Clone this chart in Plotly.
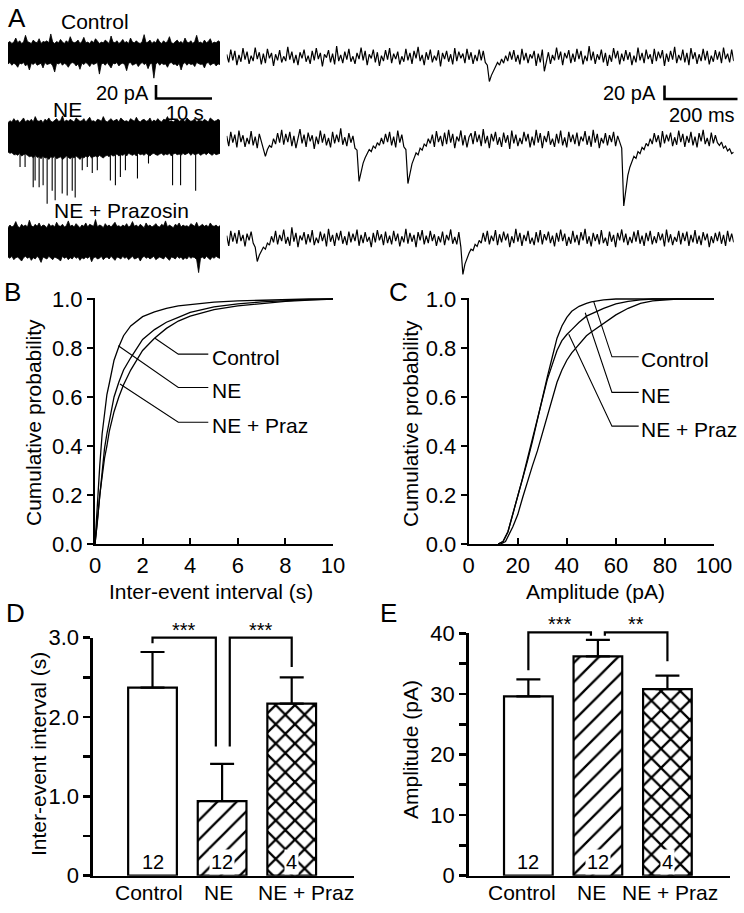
import numpy as np
import plotly.graph_objects as go

W, H = 744, 913
FONT = "Liberation Sans, Arial, Helvetica, sans-serif"

# ---------------- data ----------------
groups = ["Control", "NE", "NE + Praz"]
n_cells = [12, 12, 4]
iei_mean = [2.37, 0.94, 2.17]
iei_sem = [0.45, 0.47, 0.33]
amp_mean = [29.6, 36.2, 30.8]
amp_sem = [2.8, 2.7, 2.2]
iei_stars = ["***", "***"]
amp_stars = ["***", "**"]

# cumulative distributions of inter-event interval (s)
iei_x = [0, 0.05, 0.1, 0.2, 0.3, 0.4, 0.5, 0.6, 0.8, 1.0, 1.2, 1.5, 2.0, 2.5, 3.0, 3.5, 4, 5, 6, 7, 8, 9, 10]
iei_cdf_ctrl = [0, 0.04, 0.09, 0.2, 0.28, 0.35, 0.4, 0.46, 0.54, 0.6, 0.65, 0.71, 0.79, 0.84, 0.88, 0.91, 0.93, 0.957, 0.972, 0.982, 0.99, 0.995, 1.0]
iei_cdf_ne = [0, 0.09, 0.18, 0.32, 0.45, 0.54, 0.61, 0.655, 0.75, 0.805, 0.85, 0.89, 0.928, 0.947, 0.962, 0.972, 0.978, 0.987, 0.992, 0.995, 0.998, 1.0, 1.0]
iei_cdf_praz = [0, 0.05, 0.1, 0.22, 0.31, 0.39, 0.45, 0.5, 0.6, 0.66, 0.71, 0.76, 0.835, 0.875, 0.905, 0.925, 0.945, 0.968, 0.98, 0.988, 0.994, 0.997, 1.0]

# cumulative distributions of amplitude (pA)
amp_x_ctrl = [12, 14, 16, 18, 20, 22, 24, 26, 28, 30, 32, 34, 36, 38, 40, 42, 45, 48, 50, 55, 60, 100]
amp_cdf_ctrl = [0, 0.01, 0.05, 0.12, 0.19, 0.27, 0.34, 0.42, 0.51, 0.6, 0.68, 0.76, 0.84, 0.89, 0.925, 0.95, 0.97, 0.982, 0.988, 0.996, 1.0, 1.0]
amp_x_praz = [12, 14, 16, 18, 20, 22, 24, 26, 28, 30, 32, 34, 36, 38, 40, 42, 45, 48, 50, 55, 60, 65, 70, 75, 100]
amp_cdf_praz = [0, 0.01, 0.05, 0.12, 0.2, 0.27, 0.35, 0.43, 0.52, 0.6, 0.67, 0.73, 0.79, 0.83, 0.855, 0.875, 0.905, 0.93, 0.94, 0.962, 0.98, 0.99, 0.996, 1.0, 1.0]
amp_x_ne = [13, 15, 18, 20, 22, 24, 26, 28, 30, 32, 34, 36, 38, 40, 42, 45, 48, 50, 55, 60, 65, 70, 75, 80, 85, 100]
amp_cdf_ne = [0, 0.01, 0.07, 0.12, 0.19, 0.26, 0.32, 0.38, 0.45, 0.53, 0.6, 0.66, 0.71, 0.75, 0.78, 0.815, 0.85, 0.865, 0.9, 0.935, 0.962, 0.982, 0.992, 0.997, 1.0, 1.0]

# label leader lines: (label, curve point x, curve point y, elbow y)
iei_labels = [("Control", 2.52, 0.84, 0.775), ("NE", 0.98, 0.809, 0.639), ("NE + Praz", 1.05, 0.653, 0.497)]
amp_labels = [("Control", 51.0, 0.988, 0.764), ("NE", 47.5, 0.944, 0.619), ("NE + Praz", 40.8, 0.856, 0.481)]

# --- panel A: recordings (pA) ---
trace_names = ["Control", "NE", "NE + Prazosin"]
# 38 s overview traces: upper / lower envelopes of the dense current band
ctrl_env_up = [15, 17, 14, 16, 22, 15, 18, 14, 16, 26, 17, 15, 14, 19, 16, 15, 21, 14, 17, 16,
               18, 15, 28, 16, 14, 17, 15, 20, 16, 14, 18, 15, 24, 17, 15, 16, 19, 14, 17, 23,
               15, 16, 14, 18, 15, 21, 17, 14, 16, 15, 19, 17, 14, 25, 16, 15, 18, 14, 16, 20,
               15, 17, 14, 22, 16, 15, 18, 15, 14, 17, 27, 15, 16, 19, 14, 17, 15, 21, 16, 14,
               18, 15, 17, 24, 15, 14, 16, 19, 15, 17, 14, 22, 16, 15, 18, 14, 17, 26, 15, 16,
               14, 19, 15, 17, 21, 14, 16, 15, 18, 16]
ctrl_env_lo = [-16, -14, -18, -15, -17, -21, -15, -16, -14, -19, -16, -25, -15, -17, -14, -18, -16, -15, -22, -14,
               -17, -16, -15, -19, -28, -15, -16, -14, -18, -15, -17, -21, -16, -14, -15, -19, -16, -24, -15, -17,
               -14, -16, -20, -15, -17, -16, -14, -31, -16, -15, -18, -14, -17, -22, -15, -16, -14, -19, -16, -15,
               -17, -26, -15, -14, -18, -16, -15, -20, -16, -14, -17, -15, -23, -16, -15, -37, -16, -14, -18, -15,
               -17, -16, -21, -15, -14, -17, -16, -19, -15, -25, -16, -14, -18, -15, -17, -16, -20, -14, -15, -17,
               -16, -22, -15, -14, -18, -16, -15, -19, -16, -17]
ne_env_up = [21, 24, 22, 27, 23, 25, 21, 24, 28, 22, 25, 23, 26, 22, 30, 24, 23, 25, 21, 26,
             24, 28, 23, 22, 25, 27, 23, 24, 31, 22, 25, 23, 26, 24, 22, 28, 25, 23, 24, 27,
             22, 25, 29, 23, 24, 22, 26, 25, 23, 30, 24, 22, 25, 27, 23, 24, 26, 22, 28, 25,
             23, 24, 22, 27, 25, 23, 29, 24, 22, 25, 26, 23, 24, 28, 22, 25, 23, 27, 24, 22,
             26, 25, 30, 23, 24, 22, 25, 27, 23, 24, 26, 22, 28, 25, 23, 24, 27, 22, 25, 24,
             23, 26, 24, 22, 28, 25, 23, 24, 26, 24]
ne_env_lo = [-22, -24, -23, -26, -25, -27, -24, -28, -26, -25, -27, -29, -28, -31, -27, -30, -29, -32, -28, -31,
             -30, -33, -29, -31, -28, -32, -30, -29, -33, -31, -28, -30, -32, -29, -31, -28, -30, -33, -29, -31,
             -28, -30, -27, -31, -29, -28, -30, -27, -29, -31, -28, -27, -29, -26, -28, -27, -25, -28, -26, -27,
             -25, -28, -24, -26, -27, -25, -28, -24, -26, -25, -27, -24, -26, -28, -25, -24, -26, -27, -25, -24,
             -27, -25, -26, -24, -28, -25, -24, -26, -25, -27, -24, -26, -25, -23, -27, -24, -26, -25, -24, -27,
             -25, -24, -26, -23, -25, -27, -24, -26, -25, -24]
praz_env_up = [21, 25, 22, 24, 30, 23, 21, 26, 23, 25, 22, 32, 24, 22, 26, 23, 28, 22, 25, 24,
               21, 27, 23, 25, 22, 29, 24, 23, 26, 22, 24, 31, 23, 25, 22, 27, 24, 21, 25, 23,
               28, 22, 26, 24, 23, 33, 22, 25, 24, 21, 27, 23, 25, 22, 26, 29, 23, 24, 22, 25,
               23, 27, 22, 24, 30, 23, 25, 22, 26, 24, 21, 28, 23, 25, 22, 24, 27, 23, 22, 26,
               24, 31, 22, 25, 23, 21, 26, 24, 28, 22, 25, 23, 24, 22, 27, 25, 23, 29, 22, 24,
               26, 23, 25, 22, 28, 24, 23, 25, 22, 24]
praz_env_lo = [-22, -24, -21, -26, -23, -22, -25, -28, -23, -21, -24, -22, -27, -23, -25, -21, -24, -30, -22, -23,
               -25, -21, -24, -26, -22, -23, -25, -28, -21, -24, -22, -26, -23, -25, -21, -24, -22, -27, -23, -25,
               -22, -24, -21, -29, -23, -22, -25, -24, -21, -26, -23, -22, -25, -21, -24, -27, -22, -23, -25, -21,
               -24, -22, -26, -23, -21, -25, -24, -22, -28, -23, -21, -24, -22, -25, -23, -21, -26, -24, -22, -23,
               -25, -21, -24, -27, -22, -23, -25, -21, -24, -22, -26, -23, -25, -21, -24, -22, -23, -26, -45, -24,
               -22, -25, -21, -23, -26, -22, -24, -21, -23, -24]
# large sEPSCs visible in the NE overview (time s, peak pA)
ne_event_t = [1.25, 2.15, 3.05, 4.5, 4.84, 5.56, 6.27, 6.99, 7.89, 8.42, 9.68, 10.57, 11.47, 12.0, 13.26, 14.16, 15.05, 15.95, 18.28, 19.18, 20.07, 20.97, 23.12, 25.09, 29.39, 30.82, 33.51]
ne_event_amp = [-27, -44, -44, -74, -64, -74, -71, -98, -79, -93, -83, -86, -79, -89, -49, -44, -53, -49, -64, -71, -59, -49, -61, -39, -71, -71, -79]

# 1.39 s expanded traces (pA)
ctrl_fast = [4, -8, 11, -5, 9, -12, 3, -7, 13, -4, 8, -10, 2, -6, 14, -3, 7, -11, 5, -9,
             12, -2, 6, -13, 4, -5, 10, -8, 1, -6, 15, -4, 8, -9, 3, -12, 7, -2, 11, -7,
             2, -10, 9, -5, 13, -3, 6, -14, 4, -1, 10, -8, 5, -11, 16, -6, 3, -9, 8, -4,
             12, -7, 1, -10, 6, -3, 14, -5, 9, -12, 4, -2, 11, -8, 7, -13, 2, -6, 10, -4,
             13, -9, 5, -3, 8, -11, 1, -7, 12, -5, 6, -10, 9, -2, 15, -6, 3, -12, 7, -4,
             11, -8, 2, -5, 10, -14, 6, -3, 9, -7, 4, -11, 13, -6, 8, -2, 5, -9, 12, -4,
             7, -10, 3, -6, 11, -5, 9, -8, -12, -36, -27, -20, -15, -8, -12, -3, -9, 2, -6, 8,
             -4, 10, -7, 3, -11, 12, -5, 6, -9, 4, -2, 9, -13, 5, -8, 11, -21, -6, 7, -10,
             3, -5, 14, -4, 8, -12, 6, -2, 10, -9, 5, -7, 12, -3, 9, -11, 2, -6, 16, -5,
             8, -10, 4, -4, 11, -8, 6, -13, 3, -7, 13, -2, 9, -11, 5, -6, 10, -4, 7, -12,
             2, -8, 14, -5, 6, -9, 11, -3, 4, -10, 12, -6, 8, -2, 10, -13, 5, -7, 9, -4,
             15, -9, 3, -5, 11, -8, 6, -12, 13, -3, 7, -10, 4, -6, 12, -5, 9, -11, 2, -7,
             10, -4, 8, -9, 14, -3, 5, -8, 11, -6]
ne_fast = [6, -9, 12, -4, 8, -11, 14, -3, 7, -10, 3, -6, 13, -8, 5, -12, 9, -2, -10, -24,
           -14, -8, -11, 2, -6, 10, -4, 15, -7, 9, -3, 12, -9, 6, -12, 4, 16, -5, 8, -10,
           11, -2, 7, -13, 5, -6, 14, -4, 9, -8, 3, -11, 12, -5, 8, -3, 17, -7, 4, -9,
           10, -4, 6, -12, -15, -61, -45, -34, -26, -20, -14, -17, -9, -12, -4, -8, 3, -6, 9, -3,
           12, -8, 5, -11, 14, -4, 8, -10, -14, -64, -47, -35, -27, -19, -22, -12, -15, -6, -9, 2,
           -5, 8, -10, 13, -3, 6, -9, 11, -6, 15, -4, 9, -12, 5, -2, 14, -8, 7, -11, 4,
           10, -6, 13, -3, 8, -9, 16, -5, 6, -12, 9, -2, 12, -7, 4, -10, 11, -4, 7, -13,
           14, -5, 8, -9, 3, -6, 12, -2, 9, -11, 5, -8, 15, -4, 10, -12, 6, -3, 13, -7,
           2, -10, 9, -5, 14, -8, 4, -11, 12, -3, 8, -6, 11, -9, 5, -2, 13, -7, 6, -10,
           15, -4, 9, -12, 3, -5, 10, -8, 7, -3, 12, -9, 6, -4, -12, -97, -70, -52, -40, -31,
           -24, -27, -17, -20, -11, -14, -5, -9, 2, -6, 10, -3, 7, -11, 13, -5, 8, -2, 11, -9,
           4, -7, 14, -3, 9, -10, 6, -4, 12, -8, 5, -11, 10, -2, 15, -6, 3, -9, 11, -5,
           7, -4, -8, -3, -12, -9, -16, -13, -20, -18]
praz_fast = [5, -10, 12, -4, 9, -7, 13, -3, 6, -11, 8, -2, 11, -6, -12, -33, -24, -19, -12, -15,
             -6, -9, 4, -5, 12, -8, 6, -3, 14, -7, 3, -10, 17, -4, 9, -12, 5, -2, 10, -8,
             7, -5, 13, -9, 2, -6, 11, -3, 8, -11, 15, -4, 6, -10, 9, -2, 12, -7, 4, -9,
             11, -5, 8, -3, 14, -10, 6, -6, 10, -4, 3, -12, 9, -5, 13, -2, 7, -9, 11, -6,
             5, -8, 12, -3, 8, -11, 4, -5, 15, -7, 9, -4, 6, -12, 10, -2, 13, -8, 5, -6,
             12, -3, 7, -10, 4, -5, 11, -9, 6, -2, 14, -7, 3, -8, 10, -12, -52, -37, -28, -21,
             -15, -17, -8, -11, -2, -6, 9, -4, 12, -8, 5, -3, 13, -9, 7, -5, 11, -2, 8, -12,
             4, -6, 15, -4, 9, -10, 6, -3, 12, -7, 2, -9, 10, -5, 13, -8, 7, -2, 11, -6,
             5, -11, 9, -4, 14, -3, 8, -10, 3, -7, 12, -5, 6, -9, 10, -2, 15, -7, 4, -11,
             9, -3, 7, -8, 13, -6, 2, -10, 11, -4, 6, -12, 9, -2, 14, -5, 8, -9, 3, -6,
             11, -4, 13, -7, 5, -10, 9, -3, 12, -8, 4, -6, 10, -2, 8, -11, 14, -5, 7, -9,
             3, -4, 12, -8, 9, -3, 11, -10, 6, -5, 13, -7, 5, -9, 10, -2, 8, -12, 4, -6,
             9, -3, 11, -7, 6, -10, 12, -4, 8, -5]

SLOW_SPAN_S = 37.86
FAST_SPAN_MS = 1389.0
SCALE_PA = 20
SCALE_SLOW_S = 10
SCALE_FAST_MS = 200

# ---------------- geometry helpers ----------------
PX_PER_PA = 0.68
SLOW_X = (8, 220)
FAST_X = (226.7, 733.7)
PX_PER_S = (SLOW_X[1] - SLOW_X[0]) / SLOW_SPAN_S
PX_PER_MS = (FAST_X[1] - FAST_X[0]) / FAST_SPAN_MS


def dom_x(a, b):
    return [a / W, b / W]


def dom_y(top, bottom):
    return [1 - bottom / H, 1 - top / H]


def axkey(i, k):
    return f"{k}axis" if i == 1 else f"{k}axis{i}"


def ref(i, k):
    return k if i == 1 else f"{k}{i}"


fig = go.Figure()
layout = dict(template="none", width=W, height=H, autosize=False, margin=dict(l=0, r=0, t=0, b=0, autoexpand=False),
              paper_bgcolor="white", plot_bgcolor="rgba(0,0,0,0)", showlegend=False,
              font=dict(family=FONT, color="black", size=20))
annotations = []
shapes = []


def ann(text, x, y, size=21, xanchor="center", yanchor="middle", angle=0, **kw):
    annotations.append(dict(text=text, x=x / W, y=1 - y / H, xref="paper", yref="paper",
                            showarrow=False, xanchor=xanchor, yanchor=yanchor, textangle=angle,
                            font=dict(family=FONT, size=size, color="black"), **kw))


# ---------------- panel A ----------------
rows = [
    (ctrl_env_up, ctrl_env_lo, ctrl_fast, 53, 57),
    (ne_env_up, ne_env_lo, ne_fast, 137, 140),
    (praz_env_up, praz_env_lo, praz_fast, 242, 239),
]
for r, (up, lo, fast, c_slow, c_fast) in enumerate(rows):
    i_s, i_f = 5 + 2 * r, 6 + 2 * r
    for i, xs, c, span in ((i_s, SLOW_X, c_slow, SLOW_SPAN_S), (i_f, FAST_X, c_fast, FAST_SPAN_MS)):
        layout[axkey(i, "x")] = dict(domain=dom_x(*xs), range=[0, span], visible=False,
                                     anchor=ref(i, "y"), fixedrange=True, automargin=False)
        layout[axkey(i, "y")] = dict(domain=dom_y(c - 30, c + 70),
                                     range=[-70 / PX_PER_PA, 30 / PX_PER_PA], visible=False,
                                     anchor=ref(i, "x"), fixedrange=True, automargin=False)
    t_up = np.linspace(0, SLOW_SPAN_S, len(up))
    t_lo = np.linspace(0, SLOW_SPAN_S, len(lo))
    fig.add_trace(go.Scatter(x=np.concatenate([t_up, t_lo[::-1]]),
                             y=np.concatenate([np.asarray(up, float), np.asarray(lo, float)[::-1]]),
                             fill="toself", fillcolor="black", mode="lines",
                             line=dict(color="black", width=0.8),
                             xaxis=ref(i_s, "x"), yaxis=ref(i_s, "y"), hoverinfo="skip"))
    if r == 1:
        sx, sy = [], []
        for et, ea in zip(ne_event_t, ne_event_amp):
            base = float(np.interp(et, t_lo, lo))
            sx += [et, et, None]
            sy += [base, ea, None]
        fig.add_trace(go.Scatter(x=sx, y=sy, mode="lines", line=dict(color="black", width=1.1),
                                 xaxis=ref(i_s, "x"), yaxis=ref(i_s, "y"), hoverinfo="skip"))
    tf = np.linspace(0, FAST_SPAN_MS, len(fast))
    fig.add_trace(go.Scatter(x=tf, y=fast, mode="lines", line=dict(color="black", width=1.2),
                             xaxis=ref(i_f, "x"), yaxis=ref(i_f, "y"), hoverinfo="skip"))

ann("A", 17, 17.5, size=26)
ann(trace_names[0], 95, 22)
ann(trace_names[1], 67, 110)
ann(trace_names[2], 121, 210)


def scale_bar(x0, ybot, w_px, h_px):
    shapes.append(dict(type="path", xref="paper", yref="paper",
                       path=f"M {x0 / W},{1 - (ybot - h_px) / H} L {x0 / W},{1 - ybot / H} L {(x0 + w_px) / W},{1 - ybot / H}",
                       line=dict(color="black", width=2.6)))


scale_bar(156, 98.5, SCALE_SLOW_S * PX_PER_S, SCALE_PA * PX_PER_PA)
scale_bar(664.5, 99, SCALE_FAST_MS * PX_PER_MS, SCALE_PA * PX_PER_PA)
ann(f"{SCALE_PA} pA", 151, 93, size=20, xanchor="right")
ann(f"{SCALE_SLOW_S} s", 184.5, 112.5, size=20)
ann(f"{SCALE_PA} pA", 658, 93, size=20, xanchor="right")
ann(f"{SCALE_FAST_MS} ms", 702, 115, size=20)

# ---------------- panels B, C ----------------
cum_axis_common = dict(showline=True, linecolor="black", linewidth=2, showgrid=False, zeroline=False,
                       tickcolor="black", tickwidth=2, ticklen=6, fixedrange=True, automargin=False,
                       tickfont=dict(family=FONT, size=22, color="black"))
layout["xaxis"] = dict(domain=dom_x(95, 333), range=[0, 10], tickvals=[0, 2, 4, 6, 8, 10],
                       ticks="inside", anchor="y", ticklabelstandoff=1, **cum_axis_common)
layout["yaxis"] = dict(domain=dom_y(298, 544), range=[0, 1.004], tickvals=[0, 0.2, 0.4, 0.6, 0.8, 1.0],
                       ticktext=["0.0", "0.2", "0.4", "0.6", "0.8", "1.0"], ticks="outside", anchor="x",
                       **cum_axis_common)
layout["xaxis2"] = dict(domain=dom_x(468.7, 714), range=[0, 100], tickvals=[0, 20, 40, 60, 80, 100],
                        ticks="inside", anchor="y2", ticklabelstandoff=1, **cum_axis_common)
layout["yaxis2"] = dict(domain=dom_y(298, 544), range=[0, 1.004], tickvals=[0, 0.2, 0.4, 0.6, 0.8, 1.0],
                        ticktext=["0.0", "0.2", "0.4", "0.6", "0.8", "1.0"], ticks="outside", anchor="x2",
                        **cum_axis_common)

for xs, ys in ((iei_x, iei_cdf_ctrl), (iei_x, iei_cdf_ne), (iei_x, iei_cdf_praz)):
    fig.add_trace(go.Scatter(x=xs, y=ys, mode="lines", line=dict(color="black", width=1.3),
                             xaxis="x", yaxis="y", hoverinfo="skip"))
for xs, ys in ((amp_x_ctrl, amp_cdf_ctrl), (amp_x_ne, amp_cdf_ne), (amp_x_praz, amp_cdf_praz)):
    fig.add_trace(go.Scatter(x=xs, y=ys, mode="lines", line=dict(color="black", width=1.3),
                             xaxis="x2", yaxis="y2", hoverinfo="skip"))


def leader(labels, xref, yref, x_elbow, x_end, x_text):
    for name, cx, cy, ey in labels:
        fig.add_trace(go.Scatter(x=[cx, x_elbow, x_end], y=[cy, ey, ey], mode="lines",
                                 line=dict(color="black", width=1.1), xaxis=xref, yaxis=yref,
                                 hoverinfo="skip"))
        annotations.append(dict(text=name, x=x_text, y=ey, xref=xref, yref=yref, showarrow=False,
                                xanchor="left", yanchor="middle", yshift=-3,
                                font=dict(family=FONT, size=21, color="black")))


leader(iei_labels, "x", "y", 3.5, 4.76, 4.82)
leader(amp_labels, "x2", "y2", 58.4, 69.3, 69.6)

ann("B", 13, 292, size=26)
ann("C", 398, 292, size=26)
ann("Inter-event interval (s)", 211, 591)
ann("Amplitude (pA)", 595, 591)
ann("Cumulative probability", 33, 423, angle=-90)
ann("Cumulative probability", 410, 423, angle=-90)

# ---------------- panels D, E ----------------
D_X, D_XR, D_Y, D_YR = (93, 354), (-0.855, 2.895), (637.7, 875.7), (0, 3)
E_X, E_XR, E_Y, E_YR = (468.7, 730), (-0.858, 2.9), (633.3, 875.7), (0, 40)

bar_axis_common = dict(showline=True, linecolor="black", linewidth=2.6, showgrid=False, zeroline=False,
                       tickcolor="black", tickwidth=2.6, ticklen=7, fixedrange=True, automargin=False)
layout["xaxis3"] = dict(domain=dom_x(*D_X), range=list(D_XR), showticklabels=False,
                        ticks="", anchor="y3", **bar_axis_common)
layout["yaxis3"] = dict(domain=dom_y(*D_Y), range=list(D_YR), tickvals=[0, 1, 2, 3],
                        ticktext=["0", "1.0", "2.0", "3.0"], ticks="outside", anchor="x3",
                        tickfont=dict(family=FONT, size=22, color="black"),
                        minor=dict(tickvals=[0.5, 1.5, 2.5], ticks="outside", ticklen=7, tickwidth=2.6,
                                   tickcolor="black", showgrid=False),
                        **bar_axis_common)
layout["xaxis4"] = dict(domain=dom_x(*E_X), range=list(E_XR), showticklabels=False,
                        ticks="", anchor="y4", **bar_axis_common)
layout["yaxis4"] = dict(domain=dom_y(*E_Y), range=list(E_YR), tickvals=[0, 10, 20, 30, 40],
                        ticktext=["0", "10", "20", "30", "40"], ticks="outside", anchor="x4",
                        tickfont=dict(family=FONT, size=22, color="black"),
                        minor=dict(tickvals=[5, 15, 25, 35], ticks="outside", ticklen=7, tickwidth=2.6,
                                   tickcolor="black", showgrid=False),
                        **bar_axis_common)

pattern = dict(shape=["", "/", "x"], size=13.6, solidity=[0.0, 0.17, 0.3],
               fgcolor="black", bgcolor="white", fillmode="replace")
for vals, errs, xr, yr in ((iei_mean, iei_sem, "x3", "y3"), (amp_mean, amp_sem, "x4", "y4")):
    fig.add_trace(go.Bar(x=[0, 1, 2], y=vals, width=0.7, xaxis=xr, yaxis=yr,
                         marker=dict(color="white", line=dict(color="black", width=2.2), pattern=pattern),
                         error_y=dict(type="data", symmetric=False, array=errs, arrayminus=[0, 0, 0],
                                      color="black", thickness=2.2, width=12),
                         hoverinfo="skip"))
    for k, n in enumerate(n_cells):
        annotations.append(dict(text=str(n), x=k, y=0, xref=xr, yref=yr, showarrow=False,
                                xanchor="center", yanchor="middle", yshift=14,
                                bgcolor="white" if k > 0 else None, borderpad=1,
                                font=dict(family=FONT, size=20, color="black")))

# group labels under the bar panels (label centres as placed in the figure, px)
for centres in ((149, 218.5, 306), (522, 591, 670)):
    for name, cx in zip(groups, centres):
        ann(name, cx, 892)


def to_paper(xv, yv, xd, xr, yd, yrg):
    px = xd[0] + (xv - xr[0]) / (xr[1] - xr[0]) * (xd[1] - xd[0])
    py = yd[1] - (yv - yrg[0]) / (yrg[1] - yrg[0]) * (yd[1] - yd[0])
    return px / W, 1 - py / H


# significance brackets: (x left, x right, top, left end, right end)
iei_brackets = [(0.0, 0.91, 3.0, 2.93, 1.63), (1.11, 2.0, 3.0, 1.63, 2.63)]
amp_brackets = [(0.0, 0.9, 40.16, 33.9, 39.6), (1.1, 2.0, 40.16, 39.6, 35.4)]
for brs, stars, geo in ((iei_brackets, iei_stars, (D_X, D_XR, D_Y, D_YR)),
                        (amp_brackets, amp_stars, (E_X, E_XR, E_Y, E_YR))):
    for (x0, x1, top, e0, e1), s in zip(brs, stars):
        pts = [to_paper(x0, e0, *geo), to_paper(x0, top, *geo), to_paper(x1, top, *geo), to_paper(x1, e1, *geo)]
        path = "M " + " L ".join(f"{a},{b}" for a, b in pts)
        shapes.append(dict(type="path", xref="paper", yref="paper", path=path,
                           line=dict(color="black", width=2.2)))
        sxp, syp = to_paper((x0 + x1) / 2, top, *geo)
        annotations.append(dict(text=s, x=sxp, y=syp, xref="paper", yref="paper", showarrow=False,
                                xanchor="center", yanchor="bottom", yshift=-5,
                                font=dict(family=FONT, size=20, color="black")))

ann("D", 15.5, 613, size=26)
ann("E", 388, 613, size=26)
ann("Inter-event interval (s)", 38, 754, angle=-90)
ann("Amplitude (pA)", 410, 749, angle=-90)

layout["annotations"] = annotations
layout["shapes"] = shapes
fig.update_layout(**layout)
fig.write_html("out.html", config={"displayModeBar": False, "staticPlot": True},
               post_script="document.body.style.margin='0';document.body.style.overflow='hidden';")
